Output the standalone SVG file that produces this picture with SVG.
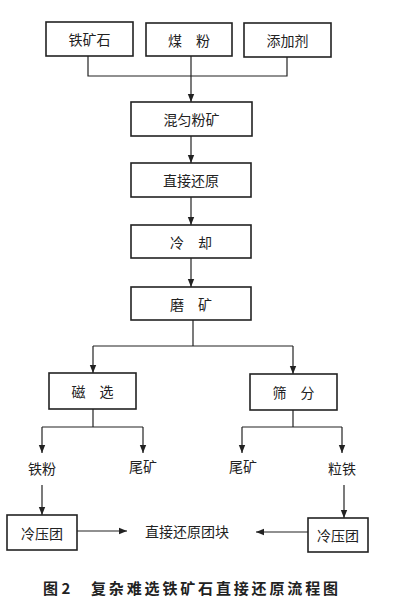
<svg xmlns="http://www.w3.org/2000/svg" width="406" height="605" viewBox="0 0 406 605">
<style>
.box{fill:#fff;stroke:#222;stroke-width:1.6}
.ln{fill:none;stroke:#222;stroke-width:1.2}
.t{font-family:"Noto Sans CJK SC","Liberation Sans",sans-serif;font-size:14px;fill:#222;text-anchor:middle;dominant-baseline:central}
.cap{font-family:"Noto Sans CJK SC","Liberation Sans",sans-serif;font-size:15px;font-weight:bold;fill:#222;dominant-baseline:central}
</style>
<defs>
<marker id="ar" viewBox="0 0 10 10" refX="10" refY="5" markerWidth="8" markerHeight="8" markerUnits="userSpaceOnUse" orient="auto">
<path d="M0,1 L10,5 L0,9 Z" fill="#222"/>
</marker>
</defs>
<rect width="406" height="605" fill="#fff"/>
<g id="connectors">
<path class="ln" d="M88,56 V76 H287 V57"/>
<path class="ln" d="M191,56 V102" marker-end="url(#ar)"/>
<path class="ln" d="M191,136 V163" marker-end="url(#ar)"/>
<path class="ln" d="M191,197 V225" marker-end="url(#ar)"/>
<path class="ln" d="M191,258 V287" marker-end="url(#ar)"/>
<path class="ln" d="M193,320 V346"/>
<path class="ln" d="M93,346 H293"/>
<path class="ln" d="M93,346 V373" marker-end="url(#ar)"/>
<path class="ln" d="M293,346 V374" marker-end="url(#ar)"/>
<path class="ln" d="M93,409 V427"/>
<path class="ln" d="M42,427 H143"/>
<path class="ln" d="M42,427 V453" marker-end="url(#ar)"/>
<path class="ln" d="M143,427 V453" marker-end="url(#ar)"/>
<path class="ln" d="M293,410 V427"/>
<path class="ln" d="M242,427 H342"/>
<path class="ln" d="M242,427 V453" marker-end="url(#ar)"/>
<path class="ln" d="M342,427 V453" marker-end="url(#ar)"/>
<path class="ln" d="M42,485 V515" marker-end="url(#ar)"/>
<path class="ln" d="M344,485 V518" marker-end="url(#ar)"/>
<path class="ln" d="M77,531 H127" marker-end="url(#ar)"/>
<path class="ln" d="M308,532 H256" marker-end="url(#ar)"/>
</g>
<g id="n-iron-ore"><rect class="box" x="46" y="22" width="87" height="34"/><text class="t" x="89.5" y="39">铁矿石</text></g>
<g id="n-coal"><rect class="box" x="146" y="23" width="86" height="33"/><text class="t" x="189" y="39.5">煤　粉</text></g>
<g id="n-additive"><rect class="box" x="244" y="23" width="87" height="34"/><text class="t" x="287.5" y="40">添加剂</text></g>
<g id="n-mix"><rect class="box" x="131" y="102" width="121" height="34"/><text class="t" x="191.5" y="119">混匀粉矿</text></g>
<g id="n-reduce"><rect class="box" x="131" y="163" width="120" height="34"/><text class="t" x="191" y="180">直接还原</text></g>
<g id="n-cool"><rect class="box" x="131" y="225" width="120" height="33"/><text class="t" x="191" y="241.5">冷　却</text></g>
<g id="n-grind"><rect class="box" x="131" y="287" width="120" height="33"/><text class="t" x="191" y="303.5">磨　矿</text></g>
<g id="n-mag"><rect class="box" x="49" y="373" width="87" height="36"/><text class="t" x="92.5" y="391">磁　选</text></g>
<g id="n-screen"><rect class="box" x="250" y="374" width="87" height="36"/><text class="t" x="293.5" y="392">筛　分</text></g>
<g id="n-ironpowder"><text class="t" x="42" y="468">铁粉</text></g>
<g id="n-tail1"><text class="t" x="143" y="466">尾矿</text></g>
<g id="n-tail2"><text class="t" x="243" y="466">尾矿</text></g>
<g id="n-granular"><text class="t" x="342" y="468">粒铁</text></g>
<g id="n-press1"><rect class="box" x="7" y="515" width="70" height="35"/><text class="t" x="42" y="532.5">冷压团</text></g>
<g id="n-press2"><rect class="box" x="308" y="518" width="60" height="34"/><text class="t" x="338" y="535">冷压团</text></g>
<g id="n-product"><text class="t" x="187" y="531">直接还原团块</text></g>
<g id="caption"><text class="cap" x="43" y="587">图 2</text><text class="cap" x="91" y="587" textLength="247">复杂难选铁矿石直接还原流程图</text></g>
</svg>
